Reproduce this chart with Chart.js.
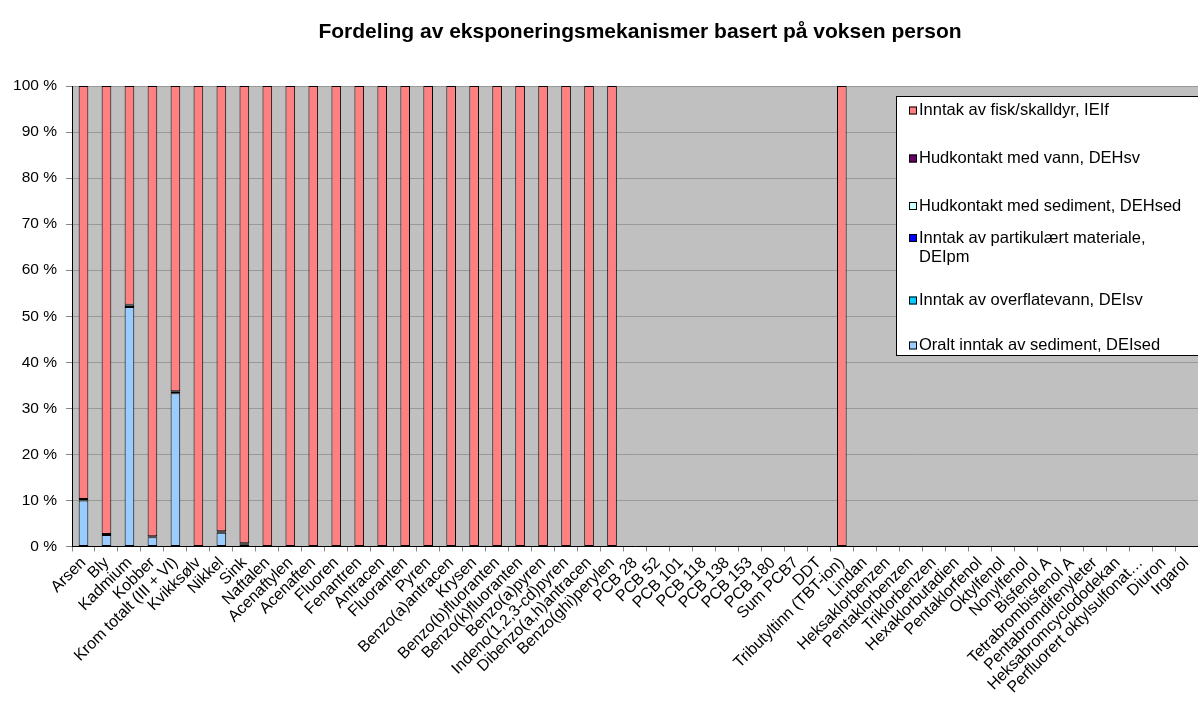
<!DOCTYPE html>
<html>
<head>
<meta charset="utf-8">
<script src="https://cdn.jsdelivr.net/npm/chart.js@4"></script>
<style>
  html, body { margin: 0; padding: 0; background: #fff; }
  #wrap { width: 1198px; height: 702px; }
</style>
</head>
<body>
<div id="wrap"><canvas id="myChart"></canvas></div>
<script>
const categories = [
  "Arsen", "Bly", "Kadmium", "Kobber", "Krom totalt (III + VI)", "Kvikksølv", "Nikkel", "Sink",
  "Naftalen", "Acenaftylen", "Acenaften", "Fluoren", "Fenantren", "Antracen", "Fluoranten", "Pyren",
  "Benzo(a)antracen", "Krysen", "Benzo(b)fluoranten", "Benzo(k)fluoranten", "Benzo(a)pyren",
  "Indeno(1,2,3-cd)pyren", "Dibenzo(a,h)antracen", "Benzo(ghi)perylen",
  "PCB 28", "PCB 52", "PCB 101", "PCB 118", "PCB 138", "PCB 153", "PCB 180", "Sum PCB7", "DDT",
  "Tributyltinn (TBT-ion)", "Lindan", "Heksaklorbenzen", "Pentaklorbenzen", "Triklorbenzen",
  "Hexaklorbutadien", "Pentaklorfenol", "Oktylfenol", "Nonylfenol", "Bisfenol A",
  "Tetrabrombisfenol A", "Pentabromdifenyleter", "Heksabromcyclododekan",
  "Perfluorert oktylsulfonat…", "Diuron", "Irgarol"
];

// percent of total exposure, per category
const oraltSediment = [10, 2.5, 52, 2, 33.3, 0, 3, 0.5,
  0, 0, 0, 0, 0, 0, 0, 0, 0, 0, 0, 0, 0, 0, 0, 0,
  0, 0, 0, 0, 0, 0, 0, 0, 0, 0,
  0, 0, 0, 0, 0, 0, 0, 0, 0, 0, 0, 0, 0, 0, 0];
const overflatevann = [0, 0, 0, 0, 0, 0, 0, 0,
  0, 0, 0, 0, 0, 0, 0, 0, 0, 0, 0, 0, 0, 0, 0, 0,
  0, 0, 0, 0, 0, 0, 0, 0, 0, 0,
  0, 0, 0, 0, 0, 0, 0, 0, 0, 0, 0, 0, 0, 0, 0];
const partikulaert = [0, 0, 0, 0, 0, 0, 0, 0,
  0, 0, 0, 0, 0, 0, 0, 0, 0, 0, 0, 0, 0, 0, 0, 0,
  0, 0, 0, 0, 0, 0, 0, 0, 0, 0,
  0, 0, 0, 0, 0, 0, 0, 0, 0, 0, 0, 0, 0, 0, 0];
const hudSediment = [0.3, 0.2, 0.5, 0.2, 0.4, 0.1, 0.3, 0.2,
  0, 0, 0, 0, 0, 0, 0, 0, 0, 0, 0, 0, 0, 0, 0, 0,
  0, 0, 0, 0, 0, 0, 0, 0, 0, 0,
  0, 0, 0, 0, 0, 0, 0, 0, 0, 0, 0, 0, 0, 0, 0];
const hudVann = [0, 0, 0, 0, 0, 0, 0, 0,
  0, 0, 0, 0, 0, 0, 0, 0, 0, 0, 0, 0, 0, 0, 0, 0,
  0, 0, 0, 0, 0, 0, 0, 0, 0, 0,
  0, 0, 0, 0, 0, 0, 0, 0, 0, 0, 0, 0, 0, 0, 0];
const fiskSkalldyr = [89.7, 97.3, 47.5, 97.8, 66.3, 99.9, 96.7, 99.3,
  100, 100, 100, 100, 100, 100, 100, 100, 100, 100, 100, 100, 100, 100, 100, 100,
  0, 0, 0, 0, 0, 0, 0, 0, 0, 100,
  0, 0, 0, 0, 0, 0, 0, 0, 0, 0, 0, 0, 0, 0, 0];

const yTicks = [0, 10, 20, 30, 40, 50, 60, 70, 80, 90, 100];

const FONT = "'Liberation Sans', Arial, sans-serif";

// grey plot area, title and the boxed legend inside the plot
const excelLook = {
  id: "excelLook",
  beforeDraw(chart) {
    const { ctx, chartArea: a } = chart;
    ctx.save();
    ctx.fillStyle = "#C0C0C0";
    ctx.fillRect(a.left, a.top, a.right - a.left, a.bottom - a.top);
    ctx.restore();
  },
  afterDraw(chart) {
    const ctx = chart.ctx;
    ctx.save();
    ctx.fillStyle = "#000";
    ctx.font = "bold 21px " + FONT;
    ctx.textAlign = "center";
    ctx.textBaseline = "middle";
    ctx.fillText("Fordeling av eksponeringsmekanismer basert på voksen person", 640, 32);

    // legend box
    const bx = 896, by = 96, bw = 310, bh = 259;
    ctx.fillStyle = "#fff";
    ctx.fillRect(bx, by, bw, bh);
    ctx.strokeStyle = "#000";
    ctx.lineWidth = 1;
    ctx.strokeRect(bx + 0.5, by + 0.5, bw, bh);

    const rows = [110.5, 158.5, 206, 238, 300.5, 345.5];
    const order = [5, 4, 3, 2, 1, 0];
    ctx.font = "16.5px " + FONT;
    ctx.textAlign = "left";
    order.forEach((di, i) => {
      const ds = chart.data.datasets[di];
      const y = rows[i];
      ctx.fillStyle = ds.backgroundColor;
      ctx.fillRect(909, y - 4, 8, 8);
      ctx.strokeStyle = "#000";
      ctx.strokeRect(909.5, y - 3.5, 7, 7);
      ctx.fillStyle = "#000";
      const lines = Array.isArray(ds.legendText) ? ds.legendText : [ds.legendText];
      lines.forEach((t, k) => ctx.fillText(t, 919, y + k * 19));
    });
    ctx.restore();
  }
};

const ctx = document.getElementById("myChart");
new Chart(ctx, {
  type: "bar",
  data: {
    labels: categories,
    datasets: [
      { label: "Oralt inntak av sediment, DEIsed", legendText: "Oralt inntak av sediment, DEIsed",
        data: oraltSediment, backgroundColor: "#99CCFF" },
      { label: "Inntak av overflatevann, DEIsv", legendText: "Inntak av overflatevann, DEIsv",
        data: overflatevann, backgroundColor: "#00CCFF" },
      { label: "Inntak av partikulært materiale, DEIpm",
        legendText: ["Inntak av partikulært materiale,", "DEIpm"],
        data: partikulaert, backgroundColor: "#0000FF" },
      { label: "Hudkontakt med sediment, DEHsed", legendText: "Hudkontakt med sediment, DEHsed",
        data: hudSediment, backgroundColor: "#CCFFFF" },
      { label: "Hudkontakt med vann, DEHsv", legendText: "Hudkontakt med vann, DEHsv",
        data: hudVann, backgroundColor: "#660066" },
      { label: "Inntak av fisk/skalldyr, IEIf", legendText: "Inntak av fisk/skalldyr, IEIf",
        data: fiskSkalldyr, backgroundColor: "#FF8080" },
    ].map(d => Object.assign(d, {
      borderColor: "#000",
      borderWidth: 1,
      borderSkipped: false,
      categoryPercentage: 1,
      barPercentage: 0.42,
    })),
  },
  options: {
    responsive: true,
    maintainAspectRatio: false,
    animation: false,
    layout: { padding: { top: 86, right: -6, left: 0, bottom: 0 } },
    plugins: {
      legend: { display: false },
      title: { display: false },
      tooltip: { enabled: false },
    },
    scales: {
      x: {
        stacked: true,
        afterFit(scale) {
          scale.height = 155.5;
          scale.paddingLeft = 0;
          scale.paddingRight = 0;
        },
        border: { color: "#000", width: 1 },
        grid: { drawOnChartArea: false, drawTicks: true, tickLength: 5, tickColor: "#888", offset: true },
        ticks: {
          autoSkip: false,
          minRotation: 45,
          maxRotation: 45,
          color: "#000",
          padding: 2,
          font: { family: FONT, size: 16 },
        },
      },
      y: {
        stacked: true,
        min: 0,
        max: 100,
        afterFit(scale) {
          scale.width = 72;
          scale.paddingTop = 0;
          scale.paddingBottom = 0;
        },
        afterBuildTicks(scale) { scale.ticks = yTicks.map(v => ({ value: v })); },
        border: { color: "#000", width: 1 },
        grid: { color: "#999", tickLength: 6, tickColor: "#888" },
        ticks: {
          color: "#000",
          padding: 9,
          font: { family: FONT, size: 15.5 },
          callback: v => v + " %",
        },
      },
    },
  },
  plugins: [excelLook],
});
</script>
</body>
</html>
